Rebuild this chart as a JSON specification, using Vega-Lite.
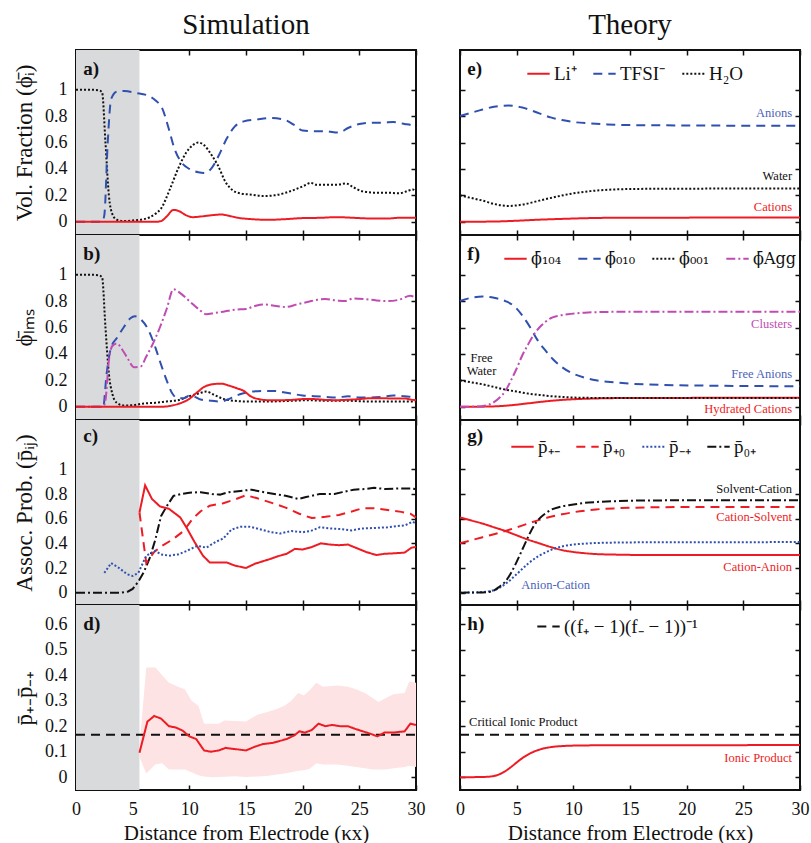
{
"$schema":"https://vega.github.io/schema/vega-lite/v6.json",
"background":"white",
"padding":{"left":12,"top":10,"right":5,"bottom":2},
"config":{
 "font":"Liberation Serif",
 "view":{"stroke":"#111111","strokeWidth":2},
 "axis":{"domain":false,"grid":false,"tickSize":-5,"tickWidth":1.5,"tickColor":"#111111","labelFontSize":18,"labelColor":"#111111","labelFont":"Liberation Serif","titleFont":"Liberation Serif","titleFontSize":23,"titleFontWeight":"normal","titleColor":"#111111","labelFlush":false,"labelPadding":14},
 "axisX":{"labelPadding":15,"titlePadding":4,"titleFontSize":21},
 "axisY":{"titlePadding":8},
 "legend":{"symbolType":"stroke","symbolStrokeWidth":2,"symbolSize":500,"labelFont":"Liberation Serif","labelFontSize":19,"labelColor":"#111111","labelOffset":3,"columnPadding":12,"padding":0,"labelLimit":300},
 "title":{"font":"Liberation Serif","fontSize":29,"fontWeight":"normal","color":"#111111"}
},
"datasets":{
"a":[
{"s":"w","x":0,"y":1},{"s":"w","x":1,"y":1},{"s":"w","x":2,"y":0.995},{"s":"w","x":2.3,"y":0.98},{"s":"w","x":2.6,"y":0.6},{"s":"w","x":2.9,"y":0.2},{"s":"w","x":3.2,"y":0.06},{"s":"w","x":3.6,"y":0.015},{"s":"w","x":4.2,"y":0.005},{"s":"w","x":5,"y":0.01},{"s":"w","x":6,"y":0.02},{"s":"w","x":7,"y":0.06},{"s":"w","x":7.5,"y":0.1},{"s":"w","x":8.3,"y":0.25},{"s":"w","x":9,"y":0.4},{"s":"w","x":9.7,"y":0.52},{"s":"w","x":10.3,"y":0.58},{"s":"w","x":10.8,"y":0.6},{"s":"w","x":11.3,"y":0.58},{"s":"w","x":12,"y":0.5},{"s":"w","x":12.5,"y":0.43},{"s":"w","x":13.2,"y":0.3},{"s":"w","x":13.8,"y":0.24},{"s":"w","x":14.5,"y":0.215},{"s":"w","x":15.5,"y":0.205},{"s":"w","x":16.5,"y":0.195},{"s":"w","x":17.5,"y":0.2},{"s":"w","x":18.5,"y":0.22},{"s":"w","x":19.5,"y":0.25},{"s":"w","x":20.3,"y":0.28},{"s":"w","x":20.7,"y":0.295},{"s":"w","x":21.2,"y":0.28},{"s":"w","x":22,"y":0.28},{"s":"w","x":23,"y":0.28},{"s":"w","x":23.8,"y":0.29},{"s":"w","x":24.5,"y":0.26},{"s":"w","x":25.3,"y":0.23},{"s":"w","x":26.5,"y":0.22},{"s":"w","x":27.5,"y":0.22},{"s":"w","x":28.5,"y":0.215},{"s":"w","x":29.3,"y":0.235},{"s":"w","x":29.7,"y":0.245},{"s":"w","x":30,"y":0.23},
{"s":"tf","x":0,"y":0},{"s":"tf","x":2.3,"y":0},{"s":"tf","x":2.5,"y":0.05},{"s":"tf","x":2.8,"y":0.6},{"s":"tf","x":3.1,"y":0.93},{"s":"tf","x":3.6,"y":0.985},{"s":"tf","x":4.3,"y":0.99},{"s":"tf","x":5.3,"y":0.975},{"s":"tf","x":6.2,"y":0.96},{"s":"tf","x":7,"y":0.92},{"s":"tf","x":7.6,"y":0.86},{"s":"tf","x":8.2,"y":0.7},{"s":"tf","x":8.7,"y":0.55},{"s":"tf","x":9.3,"y":0.45},{"s":"tf","x":10,"y":0.4},{"s":"tf","x":10.8,"y":0.375},{"s":"tf","x":11.4,"y":0.37},{"s":"tf","x":12,"y":0.41},{"s":"tf","x":12.7,"y":0.52},{"s":"tf","x":13.3,"y":0.63},{"s":"tf","x":14,"y":0.72},{"s":"tf","x":14.8,"y":0.76},{"s":"tf","x":16,"y":0.775},{"s":"tf","x":17.2,"y":0.785},{"s":"tf","x":18.3,"y":0.775},{"s":"tf","x":19.3,"y":0.73},{"s":"tf","x":20,"y":0.69},{"s":"tf","x":21,"y":0.685},{"s":"tf","x":22,"y":0.685},{"s":"tf","x":23.2,"y":0.675},{"s":"tf","x":24,"y":0.71},{"s":"tf","x":25,"y":0.74},{"s":"tf","x":26,"y":0.75},{"s":"tf","x":27,"y":0.75},{"s":"tf","x":28,"y":0.755},{"s":"tf","x":29,"y":0.74},{"s":"tf","x":29.6,"y":0.73},{"s":"tf","x":30,"y":0.71},
{"s":"li","x":0,"y":0},{"s":"li","x":7,"y":0},{"s":"li","x":7.5,"y":0.005},{"s":"li","x":8,"y":0.04},{"s":"li","x":8.6,"y":0.09},{"s":"li","x":9.1,"y":0.08},{"s":"li","x":9.7,"y":0.05},{"s":"li","x":10.3,"y":0.035},{"s":"li","x":11,"y":0.04},{"s":"li","x":12,"y":0.05},{"s":"li","x":12.8,"y":0.055},{"s":"li","x":13.5,"y":0.045},{"s":"li","x":14.3,"y":0.03},{"s":"li","x":15.5,"y":0.02},{"s":"li","x":17,"y":0.015},{"s":"li","x":18.5,"y":0.02},{"s":"li","x":20,"y":0.028},{"s":"li","x":21.5,"y":0.03},{"s":"li","x":23,"y":0.035},{"s":"li","x":24.5,"y":0.03},{"s":"li","x":26,"y":0.025},{"s":"li","x":27.5,"y":0.025},{"s":"li","x":28.5,"y":0.03},{"s":"li","x":30,"y":0.03}
],
"b":[
{"s":"w","x":0,"y":1},{"s":"w","x":1,"y":1},{"s":"w","x":2,"y":0.995},{"s":"w","x":2.3,"y":0.98},{"s":"w","x":2.6,"y":0.6},{"s":"w","x":2.9,"y":0.25},{"s":"w","x":3.2,"y":0.1},{"s":"w","x":3.6,"y":0.03},{"s":"w","x":4.2,"y":0.01},{"s":"w","x":5,"y":0.012},{"s":"w","x":6,"y":0.025},{"s":"w","x":7,"y":0.03},{"s":"w","x":8,"y":0.04},{"s":"w","x":9,"y":0.05},{"s":"w","x":10,"y":0.08},{"s":"w","x":10.8,"y":0.1},{"s":"w","x":11.5,"y":0.115},{"s":"w","x":12.2,"y":0.09},{"s":"w","x":13,"y":0.06},{"s":"w","x":14,"y":0.045},{"s":"w","x":15,"y":0.04},{"s":"w","x":17,"y":0.04},{"s":"w","x":19,"y":0.045},{"s":"w","x":20.5,"y":0.05},{"s":"w","x":22,"y":0.045},{"s":"w","x":24,"y":0.045},{"s":"w","x":26,"y":0.04},{"s":"w","x":28,"y":0.04},{"s":"w","x":30,"y":0.04},
{"s":"an","x":0,"y":0},{"s":"an","x":2.4,"y":0},{"s":"an","x":2.7,"y":0.25},{"s":"an","x":3.1,"y":0.45},{"s":"an","x":3.6,"y":0.52},{"s":"an","x":4.2,"y":0.6},{"s":"an","x":4.8,"y":0.67},{"s":"an","x":5.2,"y":0.685},{"s":"an","x":5.8,"y":0.655},{"s":"an","x":6.4,"y":0.58},{"s":"an","x":7,"y":0.45},{"s":"an","x":7.5,"y":0.32},{"s":"an","x":8,"y":0.2},{"s":"an","x":8.5,"y":0.1},{"s":"an","x":9,"y":0.065},{"s":"an","x":9.5,"y":0.065},{"s":"an","x":10,"y":0.085},{"s":"an","x":10.5,"y":0.075},{"s":"an","x":11,"y":0.055},{"s":"an","x":12,"y":0.045},{"s":"an","x":12.7,"y":0.04},{"s":"an","x":13.4,"y":0.055},{"s":"an","x":14,"y":0.08},{"s":"an","x":14.7,"y":0.1},{"s":"an","x":15.5,"y":0.115},{"s":"an","x":16.5,"y":0.12},{"s":"an","x":17.5,"y":0.12},{"s":"an","x":18.3,"y":0.11},{"s":"an","x":19,"y":0.1},{"s":"an","x":20,"y":0.085},{"s":"an","x":21,"y":0.08},{"s":"an","x":22,"y":0.075},{"s":"an","x":23,"y":0.07},{"s":"an","x":24,"y":0.08},{"s":"an","x":25,"y":0.07},{"s":"an","x":26,"y":0.07},{"s":"an","x":27,"y":0.075},{"s":"an","x":28,"y":0.085},{"s":"an","x":29,"y":0.08},{"s":"an","x":29.6,"y":0.075},{"s":"an","x":30,"y":0.08},
{"s":"ag","x":0,"y":0},{"s":"ag","x":2.4,"y":0},{"s":"ag","x":2.6,"y":0.05},{"s":"ag","x":2.9,"y":0.35},{"s":"ag","x":3.2,"y":0.46},{"s":"ag","x":3.6,"y":0.48},{"s":"ag","x":4.1,"y":0.43},{"s":"ag","x":4.6,"y":0.36},{"s":"ag","x":5.1,"y":0.3},{"s":"ag","x":5.7,"y":0.305},{"s":"ag","x":6.2,"y":0.38},{"s":"ag","x":6.8,"y":0.48},{"s":"ag","x":7.4,"y":0.6},{"s":"ag","x":8,"y":0.74},{"s":"ag","x":8.6,"y":0.89},{"s":"ag","x":9.2,"y":0.86},{"s":"ag","x":10,"y":0.8},{"s":"ag","x":10.8,"y":0.74},{"s":"ag","x":11.5,"y":0.7},{"s":"ag","x":12.2,"y":0.71},{"s":"ag","x":13,"y":0.72},{"s":"ag","x":14,"y":0.735},{"s":"ag","x":15,"y":0.74},{"s":"ag","x":15.7,"y":0.76},{"s":"ag","x":16.5,"y":0.775},{"s":"ag","x":17.5,"y":0.765},{"s":"ag","x":18.5,"y":0.755},{"s":"ag","x":19.5,"y":0.775},{"s":"ag","x":20.5,"y":0.795},{"s":"ag","x":21.3,"y":0.81},{"s":"ag","x":22,"y":0.815},{"s":"ag","x":23,"y":0.805},{"s":"ag","x":23.7,"y":0.8},{"s":"ag","x":24.5,"y":0.82},{"s":"ag","x":25.5,"y":0.815},{"s":"ag","x":26.5,"y":0.805},{"s":"ag","x":27.5,"y":0.8},{"s":"ag","x":28.5,"y":0.81},{"s":"ag","x":29.5,"y":0.84},{"s":"ag","x":30,"y":0.82},
{"s":"li","x":0,"y":0},{"s":"li","x":7.5,"y":0},{"s":"li","x":8.5,"y":0.01},{"s":"li","x":9.3,"y":0.03},{"s":"li","x":10,"y":0.06},{"s":"li","x":10.7,"y":0.11},{"s":"li","x":11.3,"y":0.15},{"s":"li","x":12,"y":0.17},{"s":"li","x":12.8,"y":0.175},{"s":"li","x":13.5,"y":0.16},{"s":"li","x":14.2,"y":0.14},{"s":"li","x":14.8,"y":0.12},{"s":"li","x":15.4,"y":0.08},{"s":"li","x":16,"y":0.06},{"s":"li","x":17,"y":0.05},{"s":"li","x":18,"y":0.05},{"s":"li","x":19,"y":0.052},{"s":"li","x":20,"y":0.058},{"s":"li","x":21,"y":0.058},{"s":"li","x":22,"y":0.052},{"s":"li","x":23,"y":0.05},{"s":"li","x":24,"y":0.053},{"s":"li","x":25,"y":0.058},{"s":"li","x":26,"y":0.065},{"s":"li","x":27,"y":0.065},{"s":"li","x":28,"y":0.062},{"s":"li","x":29,"y":0.063},{"s":"li","x":29.5,"y":0.055},{"s":"li","x":30,"y":0.05}
],
"c":[
{"s":"zp","x":0,"y":0},{"s":"zp","x":4,"y":0},{"s":"zp","x":4.6,"y":0.01},{"s":"zp","x":5,"y":0.03},{"s":"zp","x":5.5,"y":0.09},{"s":"zp","x":6,"y":0.17},{"s":"zp","x":6.5,"y":0.28},{"s":"zp","x":7,"y":0.43},{"s":"zp","x":7.5,"y":0.62},{"s":"zp","x":8,"y":0.7},{"s":"zp","x":8.6,"y":0.785},{"s":"zp","x":9.3,"y":0.8},{"s":"zp","x":10,"y":0.81},{"s":"zp","x":11,"y":0.815},{"s":"zp","x":12,"y":0.8},{"s":"zp","x":12.7,"y":0.795},{"s":"zp","x":13.5,"y":0.815},{"s":"zp","x":14.5,"y":0.825},{"s":"zp","x":15.5,"y":0.835},{"s":"zp","x":16.3,"y":0.82},{"s":"zp","x":17.5,"y":0.8},{"s":"zp","x":18.5,"y":0.785},{"s":"zp","x":19.6,"y":0.76},{"s":"zp","x":20.3,"y":0.775},{"s":"zp","x":21.5,"y":0.8},{"s":"zp","x":22.8,"y":0.8},{"s":"zp","x":23.5,"y":0.815},{"s":"zp","x":24.5,"y":0.835},{"s":"zp","x":25.5,"y":0.84},{"s":"zp","x":26.3,"y":0.85},{"s":"zp","x":27.3,"y":0.84},{"s":"zp","x":28.5,"y":0.845},{"s":"zp","x":29.5,"y":0.845},{"s":"zp","x":30,"y":0.84},
{"s":"pm","x":5.6,"y":0.65},{"s":"pm","x":6.1,"y":0.87},{"s":"pm","x":6.7,"y":0.76},{"s":"pm","x":7.4,"y":0.7},{"s":"pm","x":8.2,"y":0.68},{"s":"pm","x":9.2,"y":0.61},{"s":"pm","x":9.8,"y":0.52},{"s":"pm","x":10.4,"y":0.42},{"s":"pm","x":11.2,"y":0.3},{"s":"pm","x":11.8,"y":0.245},{"s":"pm","x":13.3,"y":0.245},{"s":"pm","x":14,"y":0.22},{"s":"pm","x":15,"y":0.2},{"s":"pm","x":15.8,"y":0.235},{"s":"pm","x":16.5,"y":0.255},{"s":"pm","x":17.2,"y":0.275},{"s":"pm","x":17.8,"y":0.295},{"s":"pm","x":18.6,"y":0.315},{"s":"pm","x":19.3,"y":0.355},{"s":"pm","x":20,"y":0.35},{"s":"pm","x":20.8,"y":0.37},{"s":"pm","x":21.6,"y":0.4},{"s":"pm","x":22.4,"y":0.39},{"s":"pm","x":23.2,"y":0.385},{"s":"pm","x":24,"y":0.39},{"s":"pm","x":24.8,"y":0.36},{"s":"pm","x":25.6,"y":0.33},{"s":"pm","x":26.5,"y":0.305},{"s":"pm","x":27.2,"y":0.315},{"s":"pm","x":28.2,"y":0.32},{"s":"pm","x":29,"y":0.325},{"s":"pm","x":29.6,"y":0.365},{"s":"pm","x":30,"y":0.37},
{"s":"p0","x":5.6,"y":0.65},{"s":"p0","x":6.2,"y":0.24},{"s":"p0","x":6.9,"y":0.33},{"s":"p0","x":7.6,"y":0.38},{"s":"p0","x":8.5,"y":0.43},{"s":"p0","x":9.5,"y":0.5},{"s":"p0","x":10.3,"y":0.6},{"s":"p0","x":11,"y":0.66},{"s":"p0","x":11.8,"y":0.705},{"s":"p0","x":13,"y":0.725},{"s":"p0","x":14,"y":0.755},{"s":"p0","x":15,"y":0.79},{"s":"p0","x":16,"y":0.765},{"s":"p0","x":17.2,"y":0.73},{"s":"p0","x":18.5,"y":0.69},{"s":"p0","x":19.7,"y":0.64},{"s":"p0","x":20.8,"y":0.605},{"s":"p0","x":22,"y":0.615},{"s":"p0","x":23.2,"y":0.63},{"s":"p0","x":24.4,"y":0.66},{"s":"p0","x":25.3,"y":0.685},{"s":"p0","x":26.3,"y":0.685},{"s":"p0","x":27.5,"y":0.67},{"s":"p0","x":28.7,"y":0.655},{"s":"p0","x":29.5,"y":0.64},{"s":"p0","x":30,"y":0.61},
{"s":"mp","x":2.5,"y":0.16},{"s":"mp","x":3.1,"y":0.24},{"s":"mp","x":3.8,"y":0.2},{"s":"mp","x":4.5,"y":0.15},{"s":"mp","x":5,"y":0.135},{"s":"mp","x":5.5,"y":0.16},{"s":"mp","x":6.2,"y":0.3},{"s":"mp","x":7,"y":0.34},{"s":"mp","x":7.5,"y":0.31},{"s":"mp","x":8.2,"y":0.3},{"s":"mp","x":9,"y":0.31},{"s":"mp","x":9.8,"y":0.34},{"s":"mp","x":10.7,"y":0.38},{"s":"mp","x":11.5,"y":0.365},{"s":"mp","x":12.3,"y":0.41},{"s":"mp","x":13,"y":0.44},{"s":"mp","x":13.7,"y":0.51},{"s":"mp","x":14.5,"y":0.535},{"s":"mp","x":15.3,"y":0.535},{"s":"mp","x":16.2,"y":0.515},{"s":"mp","x":17.2,"y":0.49},{"s":"mp","x":18,"y":0.48},{"s":"mp","x":19,"y":0.5},{"s":"mp","x":20,"y":0.49},{"s":"mp","x":20.7,"y":0.5},{"s":"mp","x":21.5,"y":0.53},{"s":"mp","x":22.5,"y":0.52},{"s":"mp","x":23.5,"y":0.515},{"s":"mp","x":24.3,"y":0.505},{"s":"mp","x":25.2,"y":0.52},{"s":"mp","x":26.5,"y":0.525},{"s":"mp","x":27.5,"y":0.53},{"s":"mp","x":28.3,"y":0.54},{"s":"mp","x":29,"y":0.545},{"s":"mp","x":29.7,"y":0.575},{"s":"mp","x":30,"y":0.56}
],
"d":[
{"s":"crit","x":0,"y":0.1667},{"s":"crit","x":30,"y":0.1667},
{"s":"p","x":5.6,"y":0.096},{"s":"p","x":6.3,"y":0.218},{"s":"p","x":6.9,"y":0.24},{"s":"p","x":7.5,"y":0.23},{"s":"p","x":8.2,"y":0.2},{"s":"p","x":8.8,"y":0.195},{"s":"p","x":9.4,"y":0.183},{"s":"p","x":10,"y":0.16},{"s":"p","x":10.6,"y":0.15},{"s":"p","x":11.3,"y":0.105},{"s":"p","x":11.9,"y":0.1},{"s":"p","x":12.6,"y":0.105},{"s":"p","x":13.2,"y":0.115},{"s":"p","x":14.1,"y":0.11},{"s":"p","x":15,"y":0.105},{"s":"p","x":15.8,"y":0.12},{"s":"p","x":16.5,"y":0.13},{"s":"p","x":17.4,"y":0.135},{"s":"p","x":18.2,"y":0.145},{"s":"p","x":18.6,"y":0.15},{"s":"p","x":19.3,"y":0.165},{"s":"p","x":19.7,"y":0.18},{"s":"p","x":20.2,"y":0.175},{"s":"p","x":20.8,"y":0.185},{"s":"p","x":21.4,"y":0.21},{"s":"p","x":22,"y":0.2},{"s":"p","x":22.6,"y":0.205},{"s":"p","x":23.3,"y":0.2},{"s":"p","x":24,"y":0.2},{"s":"p","x":24.6,"y":0.19},{"s":"p","x":25.3,"y":0.18},{"s":"p","x":26,"y":0.17},{"s":"p","x":26.6,"y":0.16},{"s":"p","x":27.2,"y":0.175},{"s":"p","x":28,"y":0.175},{"s":"p","x":29,"y":0.18},{"s":"p","x":29.5,"y":0.21},{"s":"p","x":30,"y":0.205}
],
"dband":[
{"x":5.6,"lo":0.08,"hi":0.12},{"x":6.2,"lo":0.015,"hi":0.43},{"x":7,"lo":0.05,"hi":0.43},{"x":7.6,"lo":0.055,"hi":0.4},{"x":8.2,"lo":0.03,"hi":0.37},{"x":9,"lo":0.03,"hi":0.355},{"x":9.6,"lo":0.03,"hi":0.345},{"x":10.2,"lo":0.02,"hi":0.3},{"x":10.8,"lo":0.008,"hi":0.28},{"x":11.3,"lo":0.003,"hi":0.21},{"x":12,"lo":0,"hi":0.21},{"x":12.6,"lo":0.001,"hi":0.21},{"x":13.1,"lo":0.002,"hi":0.222},{"x":14,"lo":0.004,"hi":0.22},{"x":15,"lo":0.001,"hi":0.218},{"x":16,"lo":0.003,"hi":0.245},{"x":16.8,"lo":0.005,"hi":0.255},{"x":17.6,"lo":0.01,"hi":0.265},{"x":18.4,"lo":0.015,"hi":0.28},{"x":19,"lo":0.02,"hi":0.3},{"x":19.6,"lo":0.025,"hi":0.33},{"x":20.1,"lo":0.027,"hi":0.32},{"x":20.6,"lo":0.032,"hi":0.34},{"x":21.2,"lo":0.055,"hi":0.37},{"x":21.8,"lo":0.05,"hi":0.355},{"x":23,"lo":0.05,"hi":0.36},{"x":24,"lo":0.045,"hi":0.355},{"x":24.7,"lo":0.04,"hi":0.345},{"x":25.5,"lo":0.035,"hi":0.33},{"x":26.2,"lo":0.03,"hi":0.31},{"x":26.7,"lo":0.03,"hi":0.295},{"x":27.3,"lo":0.03,"hi":0.31},{"x":28,"lo":0.035,"hi":0.325},{"x":29,"lo":0.04,"hi":0.33},{"x":29.4,"lo":0.045,"hi":0.375},{"x":30,"lo":0.04,"hi":0.37}
],
"e":[
{"s":"TFSI⁻","x":0,"y":0.8},{"s":"TFSI⁻","x":1,"y":0.825},{"s":"TFSI⁻","x":2,"y":0.85},{"s":"TFSI⁻","x":3,"y":0.87},{"s":"TFSI⁻","x":4.3,"y":0.88},{"s":"TFSI⁻","x":5.5,"y":0.865},{"s":"TFSI⁻","x":7,"y":0.82},{"s":"TFSI⁻","x":8,"y":0.79},{"s":"TFSI⁻","x":9,"y":0.77},{"s":"TFSI⁻","x":10,"y":0.755},{"s":"TFSI⁻","x":11.5,"y":0.745},{"s":"TFSI⁻","x":13,"y":0.737},{"s":"TFSI⁻","x":15,"y":0.732},{"s":"TFSI⁻","x":18,"y":0.73},{"s":"TFSI⁻","x":22,"y":0.728},{"s":"TFSI⁻","x":30,"y":0.727},
{"s":"H₂O","x":0,"y":0.2},{"s":"H₂O","x":1,"y":0.18},{"s":"H₂O","x":2,"y":0.16},{"s":"H₂O","x":3,"y":0.135},{"s":"H₂O","x":4.3,"y":0.12},{"s":"H₂O","x":5.5,"y":0.13},{"s":"H₂O","x":7,"y":0.16},{"s":"H₂O","x":8.5,"y":0.19},{"s":"H₂O","x":10,"y":0.215},{"s":"H₂O","x":11.5,"y":0.232},{"s":"H₂O","x":13,"y":0.242},{"s":"H₂O","x":15,"y":0.248},{"s":"H₂O","x":18,"y":0.25},{"s":"H₂O","x":30,"y":0.252},
{"s":"Li⁺","x":0,"y":0},{"s":"Li⁺","x":3,"y":0.002},{"s":"Li⁺","x":5,"y":0.008},{"s":"Li⁺","x":7,"y":0.016},{"s":"Li⁺","x":9,"y":0.022},{"s":"Li⁺","x":11,"y":0.027},{"s":"Li⁺","x":13,"y":0.03},{"s":"Li⁺","x":16,"y":0.031},{"s":"Li⁺","x":30,"y":0.032}
],
"f":[
{"s":"ϕ̄₁₀₄","x":0,"y":0},{"s":"ϕ̄₁₀₄","x":2,"y":0.001},{"s":"ϕ̄₁₀₄","x":3,"y":0.003},{"s":"ϕ̄₁₀₄","x":4,"y":0.008},{"s":"ϕ̄₁₀₄","x":5,"y":0.016},{"s":"ϕ̄₁₀₄","x":6,"y":0.026},{"s":"ϕ̄₁₀₄","x":7,"y":0.036},{"s":"ϕ̄₁₀₄","x":8,"y":0.045},{"s":"ϕ̄₁₀₄","x":9,"y":0.052},{"s":"ϕ̄₁₀₄","x":10,"y":0.057},{"s":"ϕ̄₁₀₄","x":12,"y":0.063},{"s":"ϕ̄₁₀₄","x":14,"y":0.066},{"s":"ϕ̄₁₀₄","x":17,"y":0.067},{"s":"ϕ̄₁₀₄","x":30,"y":0.068},
{"s":"ϕ̄₀₁₀","x":0,"y":0.8},{"s":"ϕ̄₀₁₀","x":1,"y":0.825},{"s":"ϕ̄₀₁₀","x":2,"y":0.835},{"s":"ϕ̄₀₁₀","x":3,"y":0.825},{"s":"ϕ̄₀₁₀","x":4,"y":0.8},{"s":"ϕ̄₀₁₀","x":4.8,"y":0.76},{"s":"ϕ̄₀₁₀","x":5.5,"y":0.69},{"s":"ϕ̄₀₁₀","x":6.2,"y":0.6},{"s":"ϕ̄₀₁₀","x":6.8,"y":0.51},{"s":"ϕ̄₀₁₀","x":7.5,"y":0.43},{"s":"ϕ̄₀₁₀","x":8.2,"y":0.36},{"s":"ϕ̄₀₁₀","x":9,"y":0.3},{"s":"ϕ̄₀₁₀","x":10,"y":0.25},{"s":"ϕ̄₀₁₀","x":11,"y":0.22},{"s":"ϕ̄₀₁₀","x":12,"y":0.2},{"s":"ϕ̄₀₁₀","x":13,"y":0.19},{"s":"ϕ̄₀₁₀","x":15,"y":0.175},{"s":"ϕ̄₀₁₀","x":18,"y":0.165},{"s":"ϕ̄₀₁₀","x":22,"y":0.16},{"s":"ϕ̄₀₁₀","x":30,"y":0.155},
{"s":"ϕ̄₀₀₁","x":0,"y":0.2},{"s":"ϕ̄₀₀₁","x":1,"y":0.185},{"s":"ϕ̄₀₀₁","x":2,"y":0.17},{"s":"ϕ̄₀₀₁","x":3,"y":0.15},{"s":"ϕ̄₀₀₁","x":4,"y":0.13},{"s":"ϕ̄₀₀₁","x":5,"y":0.115},{"s":"ϕ̄₀₀₁","x":6,"y":0.1},{"s":"ϕ̄₀₀₁","x":7,"y":0.09},{"s":"ϕ̄₀₀₁","x":8,"y":0.08},{"s":"ϕ̄₀₀₁","x":9,"y":0.075},{"s":"ϕ̄₀₀₁","x":10,"y":0.07},{"s":"ϕ̄₀₀₁","x":12,"y":0.067},{"s":"ϕ̄₀₀₁","x":15,"y":0.066},{"s":"ϕ̄₀₀₁","x":30,"y":0.066},
{"s":"ϕ̄Agg","x":0,"y":0},{"s":"ϕ̄Agg","x":1.5,"y":0.002},{"s":"ϕ̄Agg","x":2.5,"y":0.015},{"s":"ϕ̄Agg","x":3,"y":0.035},{"s":"ϕ̄Agg","x":3.5,"y":0.07},{"s":"ϕ̄Agg","x":4,"y":0.12},{"s":"ϕ̄Agg","x":4.5,"y":0.2},{"s":"ϕ̄Agg","x":5,"y":0.29},{"s":"ϕ̄Agg","x":5.5,"y":0.39},{"s":"ϕ̄Agg","x":6,"y":0.47},{"s":"ϕ̄Agg","x":6.5,"y":0.545},{"s":"ϕ̄Agg","x":7,"y":0.6},{"s":"ϕ̄Agg","x":7.5,"y":0.64},{"s":"ϕ̄Agg","x":8,"y":0.67},{"s":"ϕ̄Agg","x":8.5,"y":0.685},{"s":"ϕ̄Agg","x":9.5,"y":0.7},{"s":"ϕ̄Agg","x":11,"y":0.712},{"s":"ϕ̄Agg","x":13,"y":0.718},{"s":"ϕ̄Agg","x":16,"y":0.72},{"s":"ϕ̄Agg","x":30,"y":0.72}
],
"g":[
{"s":"p̄₊₋","x":0,"y":0.61},{"s":"p̄₊₋","x":1,"y":0.585},{"s":"p̄₊₋","x":2,"y":0.56},{"s":"p̄₊₋","x":3,"y":0.53},{"s":"p̄₊₋","x":4,"y":0.5},{"s":"p̄₊₋","x":5,"y":0.465},{"s":"p̄₊₋","x":6,"y":0.43},{"s":"p̄₊₋","x":7,"y":0.4},{"s":"p̄₊₋","x":8,"y":0.37},{"s":"p̄₊₋","x":9,"y":0.345},{"s":"p̄₊₋","x":10,"y":0.33},{"s":"p̄₊₋","x":11,"y":0.32},{"s":"p̄₊₋","x":12,"y":0.313},{"s":"p̄₊₋","x":14,"y":0.308},{"s":"p̄₊₋","x":17,"y":0.305},{"s":"p̄₊₋","x":30,"y":0.305},
{"s":"p̄₊₀","x":0,"y":0.4},{"s":"p̄₊₀","x":2,"y":0.45},{"s":"p̄₊₀","x":4,"y":0.5},{"s":"p̄₊₀","x":6,"y":0.56},{"s":"p̄₊₀","x":7,"y":0.59},{"s":"p̄₊₀","x":8,"y":0.615},{"s":"p̄₊₀","x":9,"y":0.635},{"s":"p̄₊₀","x":10,"y":0.652},{"s":"p̄₊₀","x":11,"y":0.665},{"s":"p̄₊₀","x":12,"y":0.675},{"s":"p̄₊₀","x":14,"y":0.685},{"s":"p̄₊₀","x":17,"y":0.692},{"s":"p̄₊₀","x":22,"y":0.695},{"s":"p̄₊₀","x":30,"y":0.695},
{"s":"p̄₋₊","x":0,"y":0},{"s":"p̄₋₊","x":1,"y":0.001},{"s":"p̄₋₊","x":2,"y":0.005},{"s":"p̄₋₊","x":3,"y":0.02},{"s":"p̄₋₊","x":4,"y":0.07},{"s":"p̄₋₊","x":5,"y":0.15},{"s":"p̄₋₊","x":6,"y":0.235},{"s":"p̄₋₊","x":7,"y":0.3},{"s":"p̄₋₊","x":8,"y":0.345},{"s":"p̄₋₊","x":9,"y":0.375},{"s":"p̄₋₊","x":10,"y":0.39},{"s":"p̄₋₊","x":11,"y":0.398},{"s":"p̄₋₊","x":13,"y":0.405},{"s":"p̄₋₊","x":16,"y":0.408},{"s":"p̄₋₊","x":30,"y":0.41},
{"s":"p̄₀₊","x":0,"y":0},{"s":"p̄₀₊","x":2,"y":0.002},{"s":"p̄₀₊","x":2.8,"y":0.01},{"s":"p̄₀₊","x":3.5,"y":0.05},{"s":"p̄₀₊","x":4,"y":0.09},{"s":"p̄₀₊","x":4.5,"y":0.16},{"s":"p̄₀₊","x":5,"y":0.25},{"s":"p̄₀₊","x":5.5,"y":0.35},{"s":"p̄₀₊","x":6,"y":0.45},{"s":"p̄₀₊","x":6.5,"y":0.54},{"s":"p̄₀₊","x":7,"y":0.6},{"s":"p̄₀₊","x":7.5,"y":0.64},{"s":"p̄₀₊","x":8,"y":0.67},{"s":"p̄₀₊","x":9,"y":0.7},{"s":"p̄₀₊","x":10,"y":0.715},{"s":"p̄₀₊","x":11,"y":0.728},{"s":"p̄₀₊","x":12,"y":0.735},{"s":"p̄₀₊","x":14,"y":0.743},{"s":"p̄₀₊","x":17,"y":0.748},{"s":"p̄₀₊","x":30,"y":0.75}
],
"h":[
{"s":"((f₊ − 1)(f₋ − 1))⁻¹","x":0,"y":0.1667},{"s":"((f₊ − 1)(f₋ − 1))⁻¹","x":30,"y":0.1667},
{"s":"ionic","x":0,"y":0},{"s":"ionic","x":2,"y":0.001},{"s":"ionic","x":3,"y":0.005},{"s":"ionic","x":3.5,"y":0.012},{"s":"ionic","x":4,"y":0.024},{"s":"ionic","x":4.5,"y":0.04},{"s":"ionic","x":5,"y":0.058},{"s":"ionic","x":5.5,"y":0.075},{"s":"ionic","x":6,"y":0.089},{"s":"ionic","x":6.5,"y":0.1},{"s":"ionic","x":7,"y":0.108},{"s":"ionic","x":7.5,"y":0.114},{"s":"ionic","x":8,"y":0.118},{"s":"ionic","x":9,"y":0.122},{"s":"ionic","x":10,"y":0.124},{"s":"ionic","x":12,"y":0.125},{"s":"ionic","x":30,"y":0.126}
]
},
"hconcat":[
{"spacing":0,"bounds":"flush",
 "resolve":{"scale":{"color":"independent","strokeDash":"independent"}},
 "vconcat":[
  {"width":340,"height":185,
   "title":{"text":"Simulation","frame":"group","anchor":"middle","offset":9},
   "layer":[
    {"data":{"values":[{}]},"mark":{"type":"rect","color":"#d9dadc"},"encoding":{"x":{"datum":0,"type":"quantitative","scale":{"domain":[0,30],"nice":false},"axis":null},"x2":{"datum":5.6}}},
    {"data":{"name":"a"},"mark":{"type":"line","strokeWidth":2,"interpolate":"monotone"},
     "encoding":{
      "x":{"field":"x","type":"quantitative","scale":{"domain":[0,30],"nice":false},"axis":{"values":[0,5,10,15,20,25,30],"labels":false,"title":null}},
      "y":{"field":"y","type":"quantitative","scale":{"domain":[-0.1,1.3],"nice":false,"zero":false},"axis":{"values":[0,0.2,0.4,0.6,0.8,1],"format":"~g","title":"Vol. Fraction (ϕ̄ᵢ)"}},
      "color":{"field":"s","type":"nominal","scale":{"domain":["li","tf","w"],"range":["#ed1c24","#3050b0","#111111"]},"legend":null},
      "strokeDash":{"field":"s","type":"nominal","scale":{"domain":["li","tf","w"],"range":[[1,0],[9,6],[2,2]]},"legend":null}}},
    {"data":{"values":[{}]},"mark":{"type":"text","text":"a)","fontSize":19,"fontWeight":"bold","align":"left","baseline":"middle","color":"#111111"},
     "encoding":{
      "x":{"datum":0.65,"type":"quantitative","scale":{"domain":[0,30],"nice":false},"axis":{"orient":"top","values":[0,5,10,15,20,25,30],"labels":false,"title":null}},
      "y":{"datum":1.16,"type":"quantitative","scale":{"domain":[-0.1,1.3],"nice":false,"zero":false},"axis":{"orient":"right","values":[0,0.2,0.4,0.6,0.8,1],"labels":false,"title":null}}}}
   ],
   "resolve":{"axis":{"x":"independent","y":"independent"}}},
  {"width":340,"height":185,
   "layer":[
    {"data":{"values":[{}]},"mark":{"type":"rect","color":"#d9dadc"},"encoding":{"x":{"datum":0,"type":"quantitative","scale":{"domain":[0,30],"nice":false},"axis":null},"x2":{"datum":5.6}}},
    {"data":{"name":"b"},"mark":{"type":"line","strokeWidth":2,"interpolate":"monotone"},
     "encoding":{
      "x":{"field":"x","type":"quantitative","scale":{"domain":[0,30],"nice":false},"axis":{"values":[0,5,10,15,20,25,30],"labels":false,"title":null}},
      "y":{"field":"y","type":"quantitative","scale":{"domain":[-0.1,1.3],"nice":false,"zero":false},"axis":{"values":[0,0.2,0.4,0.6,0.8,1],"format":"~g","title":"ϕ̄ₗₘₛ"}},
      "color":{"field":"s","type":"nominal","scale":{"domain":["li","an","w","ag"],"range":["#ed1c24","#3050b0","#111111","#c04bb3"]},"legend":null},
      "strokeDash":{"field":"s","type":"nominal","scale":{"domain":["li","an","w","ag"],"range":[[1,0],[9,6],[2,2],[9,3,2,3]]},"legend":null}}},
    {"data":{"values":[{}]},"mark":{"type":"text","text":"b)","fontSize":19,"fontWeight":"bold","align":"left","baseline":"middle","color":"#111111"},
     "encoding":{
      "x":{"datum":0.65,"type":"quantitative","scale":{"domain":[0,30],"nice":false},"axis":{"orient":"top","values":[0,5,10,15,20,25,30],"labels":false,"title":null}},
      "y":{"datum":1.16,"type":"quantitative","scale":{"domain":[-0.1,1.3],"nice":false,"zero":false},"axis":{"orient":"right","values":[0,0.2,0.4,0.6,0.8,1],"labels":false,"title":null}}}}
   ],
   "resolve":{"axis":{"x":"independent","y":"independent"}}},
  {"width":340,"height":185,
   "layer":[
    {"data":{"values":[{}]},"mark":{"type":"rect","color":"#d9dadc"},"encoding":{"x":{"datum":0,"type":"quantitative","scale":{"domain":[0,30],"nice":false},"axis":null},"x2":{"datum":5.6}}},
    {"data":{"name":"c"},"mark":{"type":"line","strokeWidth":2},
     "encoding":{
      "x":{"field":"x","type":"quantitative","scale":{"domain":[0,30],"nice":false},"axis":{"values":[0,5,10,15,20,25,30],"labels":false,"title":null}},
      "y":{"field":"y","type":"quantitative","scale":{"domain":[-0.1,1.4],"nice":false,"zero":false},"axis":{"values":[0,0.2,0.4,0.6,0.8,1],"format":"~g","title":"Assoc. Prob. (p̄ᵢⱼ)"}},
      "color":{"field":"s","type":"nominal","scale":{"domain":["pm","p0","mp","zp"],"range":["#ed1c24","#ed1c24","#3050b0","#111111"]},"legend":null},
      "strokeDash":{"field":"s","type":"nominal","scale":{"domain":["pm","p0","mp","zp"],"range":[[1,0],[9,6],[2,2],[9,3,2,3]]},"legend":null}}},
    {"data":{"values":[{}]},"mark":{"type":"text","text":"c)","fontSize":19,"fontWeight":"bold","align":"left","baseline":"middle","color":"#111111"},
     "encoding":{
      "x":{"datum":0.65,"type":"quantitative","scale":{"domain":[0,30],"nice":false},"axis":{"orient":"top","values":[0,5,10,15,20,25,30],"labels":false,"title":null}},
      "y":{"datum":1.27,"type":"quantitative","scale":{"domain":[-0.1,1.4],"nice":false,"zero":false},"axis":{"orient":"right","values":[0,0.2,0.4,0.6,0.8,1],"labels":false,"title":null}}}}
   ],
   "resolve":{"axis":{"x":"independent","y":"independent"}}},
  {"width":340,"height":185,
   "layer":[
    {"data":{"values":[{}]},"mark":{"type":"rect","color":"#d9dadc"},"encoding":{"x":{"datum":0,"type":"quantitative","scale":{"domain":[0,30],"nice":false},"axis":null},"x2":{"datum":5.6}}},
    {"data":{"name":"dband"},"mark":{"type":"area","color":"#fde3e3","opacity":1},
     "encoding":{
      "x":{"field":"x","type":"quantitative","scale":{"domain":[0,30],"nice":false},"axis":null},
      "y":{"field":"lo","type":"quantitative","scale":{"domain":[-0.05,0.675],"nice":false,"zero":false},"axis":null},
      "y2":{"field":"hi"}}},
    {"data":{"name":"d"},"mark":{"type":"line","strokeWidth":2},
     "encoding":{
      "x":{"field":"x","type":"quantitative","scale":{"domain":[0,30],"nice":false},"axis":{"values":[0,5,10,15,20,25,30],"title":"Distance from Electrode (κx)"}},
      "y":{"field":"y","type":"quantitative","scale":{"domain":[-0.05,0.675],"nice":false,"zero":false},"axis":{"values":[0,0.1,0.2,0.3,0.4,0.5,0.6],"format":"~g","title":"p̄₊₋p̄₋₊"}},
      "color":{"field":"s","type":"nominal","scale":{"domain":["p","crit"],"range":["#ed1c24","#111111"]},"legend":null},
      "strokeDash":{"field":"s","type":"nominal","scale":{"domain":["p","crit"],"range":[[1,0],[9,6]]},"legend":null}}},
    {"data":{"values":[{}]},"mark":{"type":"text","text":"d)","fontSize":19,"fontWeight":"bold","align":"left","baseline":"middle","color":"#111111"},
     "encoding":{
      "x":{"datum":0.65,"type":"quantitative","scale":{"domain":[0,30],"nice":false},"axis":{"orient":"top","values":[0,5,10,15,20,25,30],"labels":false,"title":null}},
      "y":{"datum":0.6,"type":"quantitative","scale":{"domain":[-0.05,0.675],"nice":false,"zero":false},"axis":{"orient":"right","values":[0,0.1,0.2,0.3,0.4,0.5,0.6],"labels":false,"title":null}}}}
   ],
   "resolve":{"axis":{"x":"independent","y":"independent"}}}
 ]},
{"spacing":0,"bounds":"flush",
 "resolve":{"scale":{"color":"independent","strokeDash":"independent"}},
 "vconcat":[
  {"width":340,"height":185,
   "title":{"text":"Theory","frame":"group","anchor":"middle","offset":9},
   "layer":[
    {"data":{"name":"e"},"mark":{"type":"line","strokeWidth":2,"interpolate":"monotone"},
     "encoding":{
      "x":{"field":"x","type":"quantitative","scale":{"domain":[0,30],"nice":false},"axis":{"values":[0,5,10,15,20,25,30],"labels":false,"title":null}},
      "y":{"field":"y","type":"quantitative","scale":{"domain":[-0.1,1.3],"nice":false,"zero":false},"axis":{"values":[0,0.2,0.4,0.6,0.8,1],"labels":false,"title":null}},
      "color":{"field":"s","type":"nominal","scale":{"domain":["Li⁺","TFSI⁻","H₂O"],"range":["#ed1c24","#3050b0","#111111"]},"legend":{"orient":"none","legendX":66,"legendY":11,"direction":"horizontal","title":null}},
      "strokeDash":{"field":"s","type":"nominal","scale":{"domain":["Li⁺","TFSI⁻","H₂O"],"range":[[1,0],[9,6],[2,2]]},"legend":{"orient":"none","legendX":66,"legendY":11,"direction":"horizontal","title":null}}}},
    {"data":{"values":[{}]},"mark":{"type":"text","text":"e)","fontSize":19,"fontWeight":"bold","align":"left","baseline":"middle","color":"#111111"},
     "encoding":{
      "x":{"datum":0.65,"type":"quantitative","scale":{"domain":[0,30],"nice":false},"axis":{"orient":"top","values":[0,5,10,15,20,25,30],"labels":false,"title":null}},
      "y":{"datum":1.16,"type":"quantitative","scale":{"domain":[-0.1,1.3],"nice":false,"zero":false},"axis":{"orient":"right","values":[0,0.2,0.4,0.6,0.8,1],"labels":false,"title":null}}}},
    {"data":{"values":[{}]},"mark":{"type":"text","text":"Anions","fontSize":12.5,"align":"right","baseline":"middle","color":"#4a62b8"},
     "encoding":{"x":{"datum":29.3,"type":"quantitative","scale":{"domain":[0,30],"nice":false},"axis":null},"y":{"datum":0.82,"type":"quantitative","scale":{"domain":[-0.1,1.3],"nice":false,"zero":false},"axis":null}}},
    {"data":{"values":[{}]},"mark":{"type":"text","text":"Water","fontSize":12.5,"align":"right","baseline":"middle","color":"#111111"},
     "encoding":{"x":{"datum":29.3,"type":"quantitative","scale":{"domain":[0,30],"nice":false},"axis":null},"y":{"datum":0.35,"type":"quantitative","scale":{"domain":[-0.1,1.3],"nice":false,"zero":false},"axis":null}}},
    {"data":{"values":[{}]},"mark":{"type":"text","text":"Cations","fontSize":12.5,"align":"right","baseline":"middle","color":"#ed1c24"},
     "encoding":{"x":{"datum":29.3,"type":"quantitative","scale":{"domain":[0,30],"nice":false},"axis":null},"y":{"datum":0.115,"type":"quantitative","scale":{"domain":[-0.1,1.3],"nice":false,"zero":false},"axis":null}}}
   ],
   "resolve":{"axis":{"x":"independent","y":"independent"}}},
  {"width":340,"height":185,
   "layer":[
    {"data":{"name":"f"},"mark":{"type":"line","strokeWidth":2,"interpolate":"monotone"},
     "encoding":{
      "x":{"field":"x","type":"quantitative","scale":{"domain":[0,30],"nice":false},"axis":{"values":[0,5,10,15,20,25,30],"labels":false,"title":null}},
      "y":{"field":"y","type":"quantitative","scale":{"domain":[-0.1,1.3],"nice":false,"zero":false},"axis":{"values":[0,0.2,0.4,0.6,0.8,1],"labels":false,"title":null}},
      "color":{"field":"s","type":"nominal","scale":{"domain":["ϕ̄₁₀₄","ϕ̄₀₁₀","ϕ̄₀₀₁","ϕ̄Agg"],"range":["#ed1c24","#3050b0","#111111","#c04bb3"]},"legend":{"orient":"none","legendX":43,"legendY":11,"direction":"horizontal","title":null,"labelFont":"DejaVu Serif","labelFontSize":16}},
      "strokeDash":{"field":"s","type":"nominal","scale":{"domain":["ϕ̄₁₀₄","ϕ̄₀₁₀","ϕ̄₀₀₁","ϕ̄Agg"],"range":[[1,0],[9,6],[2,2],[9,3,2,3]]},"legend":{"orient":"none","legendX":43,"legendY":11,"direction":"horizontal","title":null,"labelFont":"DejaVu Serif","labelFontSize":16}}}},
    {"data":{"values":[{}]},"mark":{"type":"text","text":"f)","fontSize":19,"fontWeight":"bold","align":"left","baseline":"middle","color":"#111111"},
     "encoding":{
      "x":{"datum":0.65,"type":"quantitative","scale":{"domain":[0,30],"nice":false},"axis":{"orient":"top","values":[0,5,10,15,20,25,30],"labels":false,"title":null}},
      "y":{"datum":1.16,"type":"quantitative","scale":{"domain":[-0.1,1.3],"nice":false,"zero":false},"axis":{"orient":"right","values":[0,0.2,0.4,0.6,0.8,1],"labels":false,"title":null}}}},
    {"data":{"values":[{}]},"mark":{"type":"text","text":"Clusters","fontSize":12.5,"align":"right","baseline":"middle","color":"#c04bb3"},
     "encoding":{"x":{"datum":29.3,"type":"quantitative","scale":{"domain":[0,30],"nice":false},"axis":null},"y":{"datum":0.63,"type":"quantitative","scale":{"domain":[-0.1,1.3],"nice":false,"zero":false},"axis":null}}},
    {"data":{"values":[{}]},"mark":{"type":"text","text":"Free Anions","fontSize":12.5,"align":"right","baseline":"middle","color":"#4a62b8"},
     "encoding":{"x":{"datum":29.3,"type":"quantitative","scale":{"domain":[0,30],"nice":false},"axis":null},"y":{"datum":0.25,"type":"quantitative","scale":{"domain":[-0.1,1.3],"nice":false,"zero":false},"axis":null}}},
    {"data":{"values":[{}]},"mark":{"type":"text","text":"Hydrated Cations","fontSize":12.5,"align":"right","baseline":"middle","color":"#ed1c24"},
     "encoding":{"x":{"datum":29.3,"type":"quantitative","scale":{"domain":[0,30],"nice":false},"axis":null},"y":{"datum":-0.015,"type":"quantitative","scale":{"domain":[-0.1,1.3],"nice":false,"zero":false},"axis":null}}},
    {"data":{"values":[{}]},"mark":{"type":"text","text":["Free","Water"],"lineHeight":13.5,"fontSize":12.5,"align":"center","baseline":"middle","color":"#111111"},
     "encoding":{"x":{"datum":1.9,"type":"quantitative","scale":{"domain":[0,30],"nice":false},"axis":null},"y":{"datum":0.37,"type":"quantitative","scale":{"domain":[-0.1,1.3],"nice":false,"zero":false},"axis":null}}}
   ],
   "resolve":{"axis":{"x":"independent","y":"independent"}}},
  {"width":340,"height":185,
   "layer":[
    {"data":{"name":"g"},"mark":{"type":"line","strokeWidth":2,"interpolate":"monotone"},
     "encoding":{
      "x":{"field":"x","type":"quantitative","scale":{"domain":[0,30],"nice":false},"axis":{"values":[0,5,10,15,20,25,30],"labels":false,"title":null}},
      "y":{"field":"y","type":"quantitative","scale":{"domain":[-0.1,1.4],"nice":false,"zero":false},"axis":{"values":[0,0.2,0.4,0.6,0.8,1],"labels":false,"title":null}},
      "color":{"field":"s","type":"nominal","scale":{"domain":["p̄₊₋","p̄₊₀","p̄₋₊","p̄₀₊"],"range":["#ed1c24","#ed1c24","#3050b0","#111111"]},"legend":{"orient":"none","legendX":50,"legendY":14,"direction":"horizontal","title":null}},
      "strokeDash":{"field":"s","type":"nominal","scale":{"domain":["p̄₊₋","p̄₊₀","p̄₋₊","p̄₀₊"],"range":[[1,0],[9,6],[2,2],[9,3,2,3]]},"legend":{"orient":"none","legendX":50,"legendY":14,"direction":"horizontal","title":null}}}},
    {"data":{"values":[{}]},"mark":{"type":"text","text":"g)","fontSize":19,"fontWeight":"bold","align":"left","baseline":"middle","color":"#111111"},
     "encoding":{
      "x":{"datum":0.65,"type":"quantitative","scale":{"domain":[0,30],"nice":false},"axis":{"orient":"top","values":[0,5,10,15,20,25,30],"labels":false,"title":null}},
      "y":{"datum":1.27,"type":"quantitative","scale":{"domain":[-0.1,1.4],"nice":false,"zero":false},"axis":{"orient":"right","values":[0,0.2,0.4,0.6,0.8,1],"labels":false,"title":null}}}},
    {"data":{"values":[{}]},"mark":{"type":"text","text":"Solvent-Cation","fontSize":12.5,"align":"right","baseline":"middle","color":"#111111"},
     "encoding":{"x":{"datum":29.3,"type":"quantitative","scale":{"domain":[0,30],"nice":false},"axis":null},"y":{"datum":0.84,"type":"quantitative","scale":{"domain":[-0.1,1.4],"nice":false,"zero":false},"axis":null}}},
    {"data":{"values":[{}]},"mark":{"type":"text","text":"Cation-Solvent","fontSize":12.5,"align":"right","baseline":"middle","color":"#ed1c24"},
     "encoding":{"x":{"datum":29.3,"type":"quantitative","scale":{"domain":[0,30],"nice":false},"axis":null},"y":{"datum":0.61,"type":"quantitative","scale":{"domain":[-0.1,1.4],"nice":false,"zero":false},"axis":null}}},
    {"data":{"values":[{}]},"mark":{"type":"text","text":"Cation-Anion","fontSize":12.5,"align":"right","baseline":"middle","color":"#ed1c24"},
     "encoding":{"x":{"datum":29.3,"type":"quantitative","scale":{"domain":[0,30],"nice":false},"axis":null},"y":{"datum":0.21,"type":"quantitative","scale":{"domain":[-0.1,1.4],"nice":false,"zero":false},"axis":null}}},
    {"data":{"values":[{}]},"mark":{"type":"text","text":"Anion-Cation","fontSize":12.5,"align":"left","baseline":"middle","color":"#4a62b8"},
     "encoding":{"x":{"datum":5.4,"type":"quantitative","scale":{"domain":[0,30],"nice":false},"axis":null},"y":{"datum":0.06,"type":"quantitative","scale":{"domain":[-0.1,1.4],"nice":false,"zero":false},"axis":null}}}
   ],
   "resolve":{"axis":{"x":"independent","y":"independent"}}},
  {"width":340,"height":185,
   "layer":[
    {"data":{"name":"h"},"mark":{"type":"line","strokeWidth":2,"interpolate":"monotone"},
     "encoding":{
      "x":{"field":"x","type":"quantitative","scale":{"domain":[0,30],"nice":false},"axis":{"values":[0,5,10,15,20,25,30],"title":"Distance from Electrode (κx)"}},
      "y":{"field":"y","type":"quantitative","scale":{"domain":[-0.05,0.675],"nice":false,"zero":false},"axis":{"values":[0,0.1,0.2,0.3,0.4,0.5,0.6],"labels":false,"title":null}},
      "color":{"field":"s","type":"nominal","scale":{"domain":["((f₊ − 1)(f₋ − 1))⁻¹","ionic"],"range":["#111111","#ed1c24"]},"legend":{"orient":"none","legendX":76,"legendY":9,"direction":"horizontal","title":null,"values":["((f₊ − 1)(f₋ − 1))⁻¹"]}},
      "strokeDash":{"field":"s","type":"nominal","scale":{"domain":["((f₊ − 1)(f₋ − 1))⁻¹","ionic"],"range":[[9,6],[1,0]]},"legend":{"orient":"none","legendX":76,"legendY":9,"direction":"horizontal","title":null,"values":["((f₊ − 1)(f₋ − 1))⁻¹"]}}}},
    {"data":{"values":[{}]},"mark":{"type":"text","text":"h)","fontSize":19,"fontWeight":"bold","align":"left","baseline":"middle","color":"#111111"},
     "encoding":{
      "x":{"datum":0.65,"type":"quantitative","scale":{"domain":[0,30],"nice":false},"axis":{"orient":"top","values":[0,5,10,15,20,25,30],"labels":false,"title":null}},
      "y":{"datum":0.6,"type":"quantitative","scale":{"domain":[-0.05,0.675],"nice":false,"zero":false},"axis":{"orient":"right","values":[0,0.1,0.2,0.3,0.4,0.5,0.6],"labels":false,"title":null}}}},
    {"data":{"values":[{}]},"mark":{"type":"text","text":"Critical Ionic Product","fontSize":12.5,"align":"left","baseline":"middle","color":"#111111"},
     "encoding":{"x":{"datum":0.8,"type":"quantitative","scale":{"domain":[0,30],"nice":false},"axis":null},"y":{"datum":0.217,"type":"quantitative","scale":{"domain":[-0.05,0.675],"nice":false,"zero":false},"axis":null}}},
    {"data":{"values":[{}]},"mark":{"type":"text","text":"Ionic Product","fontSize":12.5,"align":"right","baseline":"middle","color":"#ed1c24"},
     "encoding":{"x":{"datum":29.3,"type":"quantitative","scale":{"domain":[0,30],"nice":false},"axis":null},"y":{"datum":0.077,"type":"quantitative","scale":{"domain":[-0.05,0.675],"nice":false,"zero":false},"axis":null}}}
   ],
   "resolve":{"axis":{"x":"independent","y":"independent"}}}
 ]}
],
"spacing":28,
"resolve":{"scale":{"color":"independent","strokeDash":"independent"}}
}
